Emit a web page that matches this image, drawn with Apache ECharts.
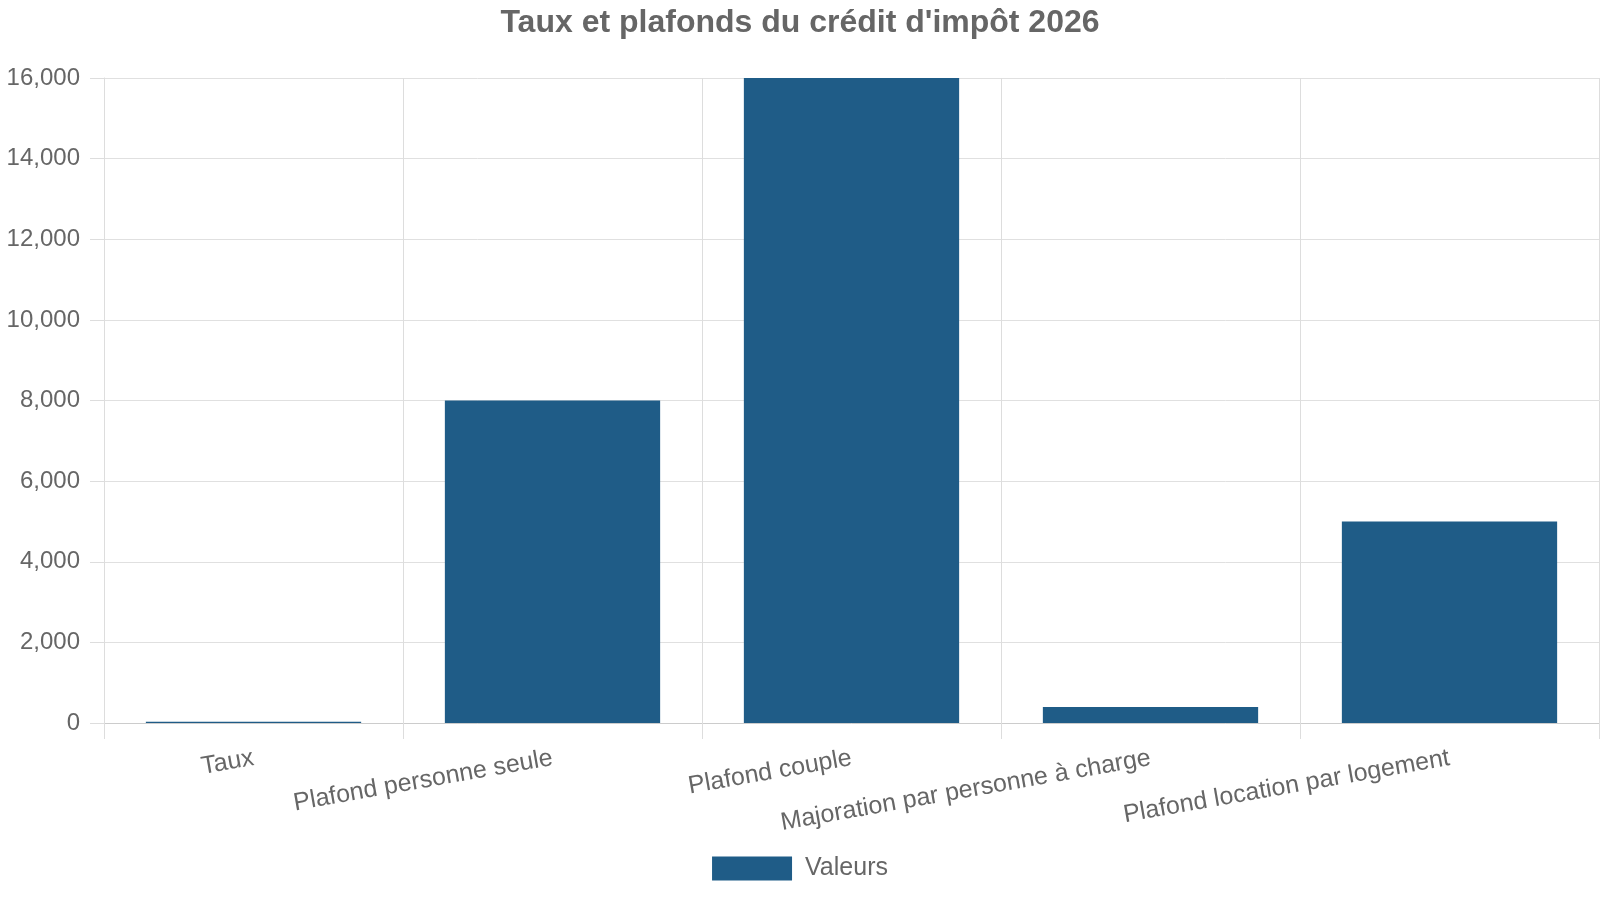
<!DOCTYPE html>
<html>
<head>
<meta charset="utf-8">
<title>Taux et plafonds du crédit d'impôt 2026</title>
<script src="https://cdn.jsdelivr.net/npm/echarts@6/dist/echarts.min.js"></script>
<style>
  html, body { margin: 0; padding: 0; background: #fff; }
  #chart { width: 1600px; height: 900px; }
</style>
</head>
<body>
<div id="chart"></div>
<script>
// données du graphique
var categories = ['Taux', 'Plafond personne seule', 'Plafond couple', 'Majoration par personne à charge', 'Plafond location par logement'];
var valeurs = [30, 8000, 16000, 400, 5000];
var seriesName = 'Valeurs';

var myChart = echarts.init(document.getElementById('chart'));

var option = {
    title: {
        text: "Taux et plafonds du crédit d'impôt 2026",
        left: 'center',
        top: 2,
        textStyle: { fontFamily: 'Liberation Sans', fontSize: 32, fontWeight: 'bold', color: '#666' }
    },
    legend: {
        bottom: 14,
        left: 'center',
        itemWidth: 80,
        itemHeight: 24,
        icon: 'rect',
        textStyle: { fontFamily: 'Liberation Sans', fontSize: 25, color: '#666', padding: [0, 0, 0, 8] },
        data: [seriesName]
    },
    grid: { left: 104, right: 1, top: 78, bottom: 177 },
    xAxis: {
        type: 'category',
        data: categories,
        axisLine: { lineStyle: { color: '#ccc' } },
        axisTick: { show: true, length: 16, lineStyle: { color: '#ddd' } },
        splitLine: { show: true, lineStyle: { color: '#ddd' } },
        axisLabel: { rotate: 10, fontFamily: 'Liberation Sans', fontSize: 25, color: '#666', interval: 0, margin: 35 }
    },
    yAxis: {
        type: 'value',
        min: 0,
        max: 16000,
        interval: 2000,
        axisLine: { show: true, lineStyle: { color: '#ddd' } },
        axisTick: { show: true, length: 14, lineStyle: { color: '#ddd' } },
        splitLine: { lineStyle: { color: '#e0e0e0' } },
        axisLabel: { fontFamily: 'Liberation Sans', fontSize: 24, color: '#666', margin: 24 }
    },
    series: [{
        name: seriesName,
        type: 'bar',
        data: valeurs,
        barWidth: '72%',
        itemStyle: { color: '#1f5c87' }
    }]
};

myChart.setOption(option);
</script>
</body>
</html>
